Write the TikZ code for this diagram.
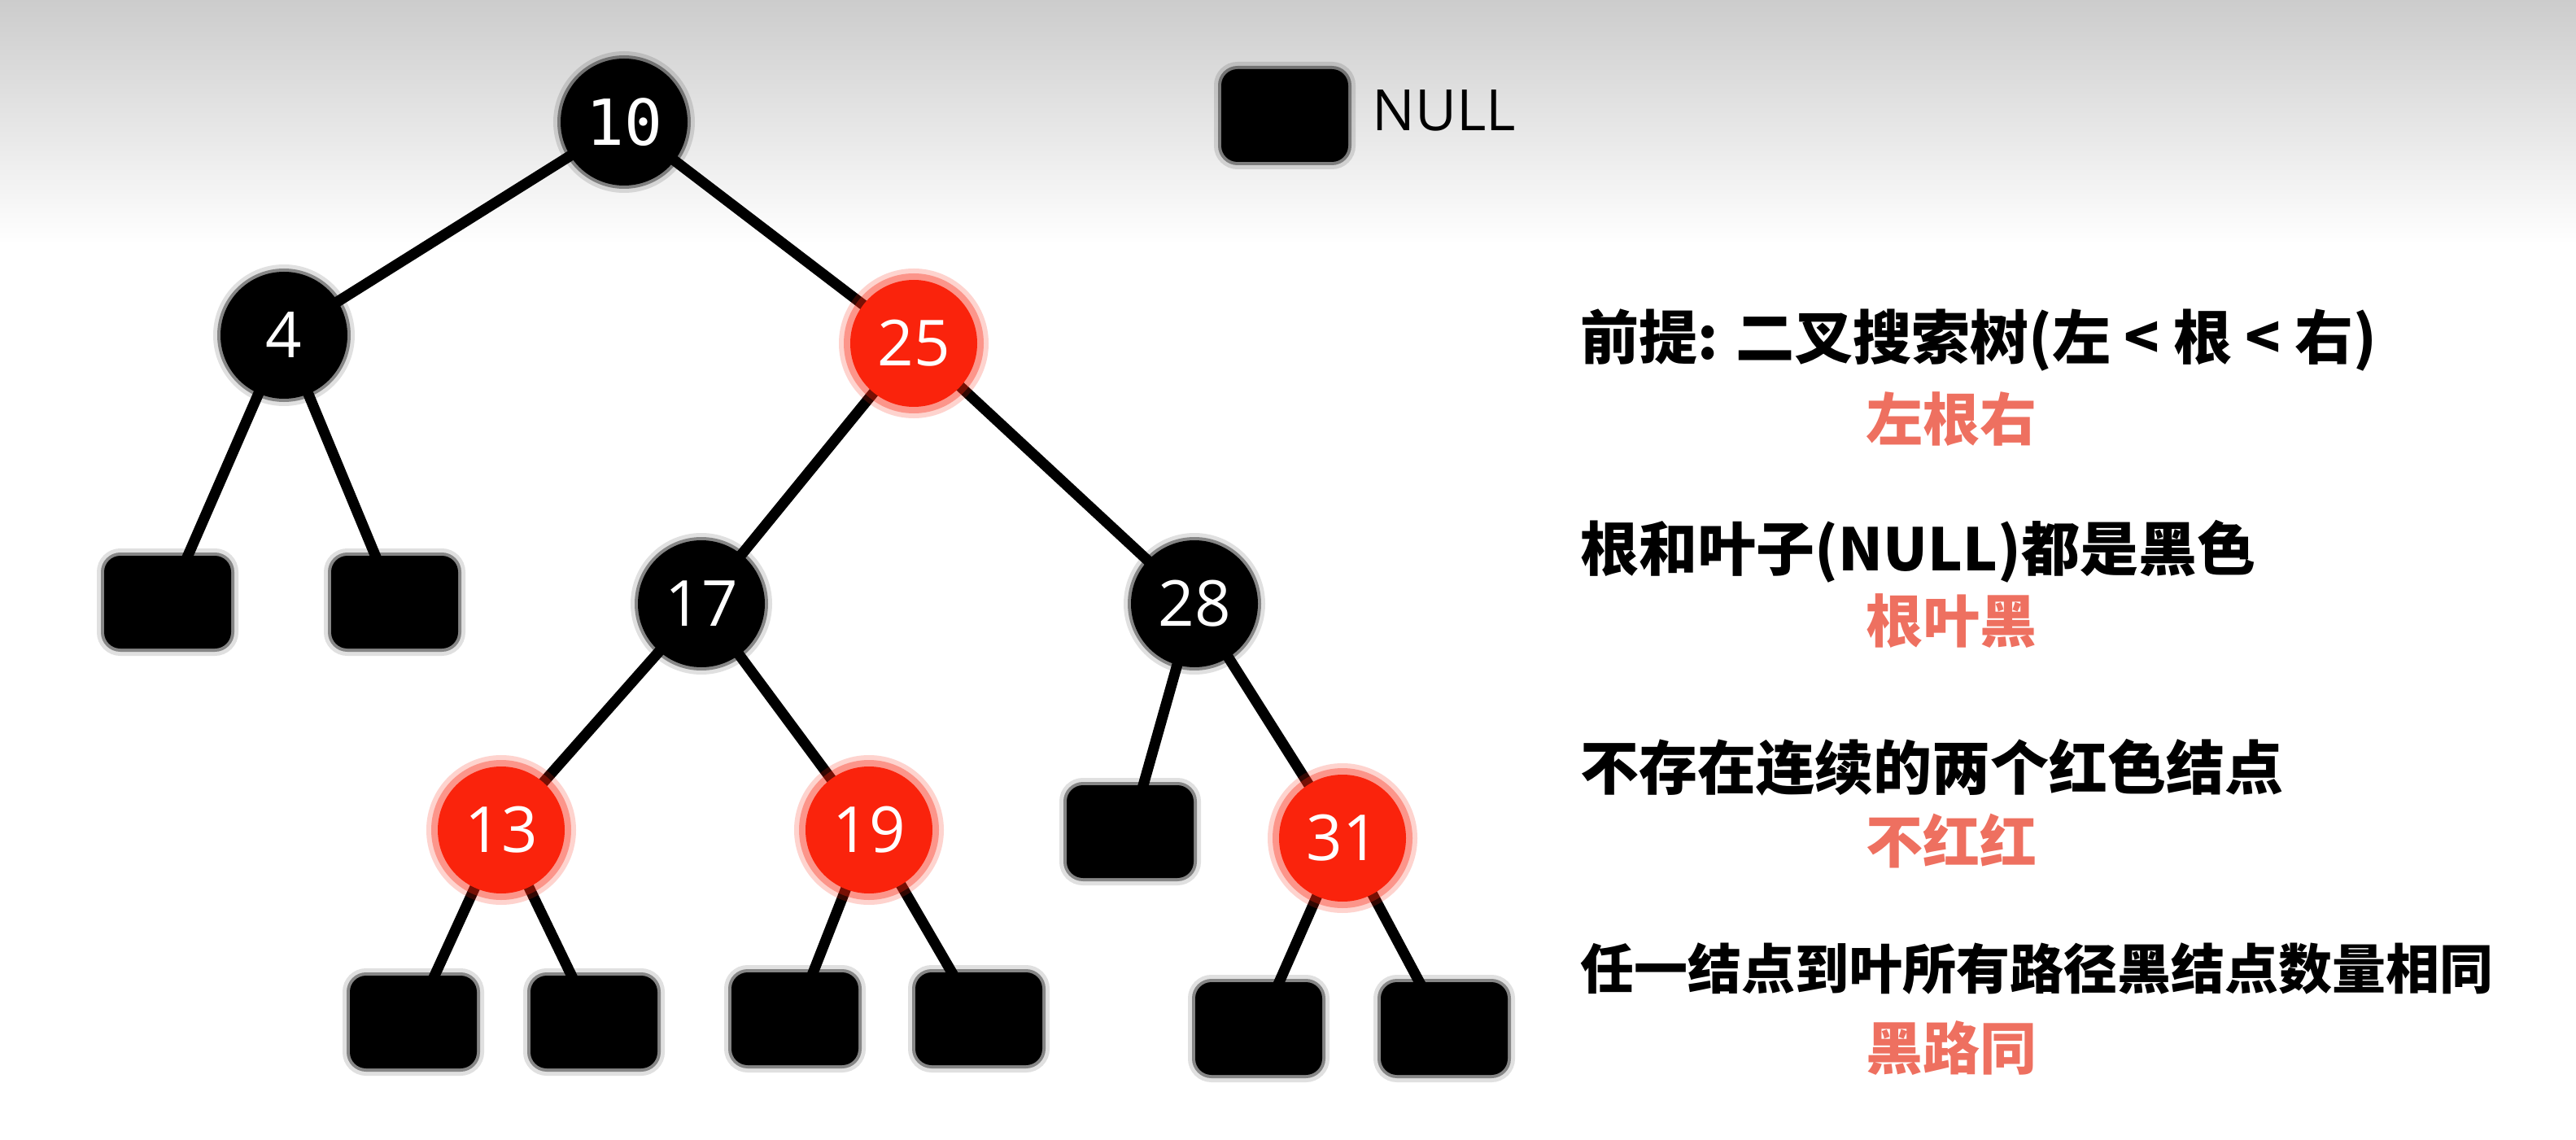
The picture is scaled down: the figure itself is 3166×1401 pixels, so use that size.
\documentclass[tikz,border=0pt]{standalone}
\usepackage{fontspec}
\setmainfont{Open Sans}
\newfontfamily\cjk{Noto Sans CJK SC}
\newfontfamily\monodigits{DejaVu Sans Mono}
\definecolor{rbred}{RGB}{250,35,12}
\definecolor{hintred}{RGB}{238,112,96}
\pgfdeclarelayer{back}
\pgfsetlayers{back,main}
\tikzset{
  blk/.style={circle,fill=black,minimum size=78pt,inner sep=0pt,text=white,
    font=\fontsize{39}{39}\selectfont,
    preaction={draw=black,draw opacity=0.12,line width=9pt},
    preaction={draw=black,draw opacity=0.4,line width=4pt}},
  rd/.style={circle,fill=rbred,minimum size=78pt,inner sep=0pt,text=white,
    font=\fontsize{39}{39}\selectfont,
    preaction={draw=rbred,draw opacity=0.2,line width=14pt},
    preaction={draw=rbred,draw opacity=0.35,line width=8pt}},
  nil/.style={rectangle,rounded corners=10pt,fill=black,minimum width=78pt,
    minimum height=57pt,inner sep=0pt,
    preaction={draw=black,draw opacity=0.12,line width=9pt},
    preaction={draw=black,draw opacity=0.4,line width=4pt}},
  link/.style={line width=6.5pt},
  ruletext/.style={anchor=west,inner sep=0pt,font=\cjk\bfseries\fontsize{36}{36}\selectfont},
  hinttext/.style={inner sep=0pt,text=hintred,font=\cjk\bfseries\fontsize{35}{35}\selectfont}
}
\begin{document}
\begin{tikzpicture}[x=0.5pt,y=-0.5pt]
\useasboundingbox (0,0) rectangle (3166,1401);
% tree
\node[blk] (n10) at (767,150) {\monodigits 10};
\node[blk] (n4) at (349,412) {4};
\node[rd] (n25) at (1123,422) {25};
\node[blk] (n17) at (862,742) {17};
\node[blk] (n28) at (1468,742) {28};
\node[rd] (n13) at (616,1020) {13};
\node[rd] (n19) at (1068,1020) {19};
\node[rd] (n31) at (1650,1030) {31};
% leaves
\node[nil] (l4a) at (206,740) {};
\node[nil] (l4b) at (485,740) {};
\node[nil] (l28a) at (1389,1022) {};
\node[nil] (l13a) at (508,1256) {};
\node[nil] (l13b) at (730,1256) {};
\node[nil] (l19a) at (977,1252) {};
\node[nil] (l19b) at (1203,1252) {};
\node[nil] (l31a) at (1547,1264) {};
\node[nil] (l31b) at (1775,1264) {};
% legend
\node[nil] (key) at (1579,142) {};
\node[anchor=west,inner sep=0pt,font=\fontsize{35}{35}\selectfont] (keytext) at (1686,136) {NULL};
% rules
\node[ruletext] (r1) at (1942,418) {前提: 二叉搜索树(左 < 根 < 右)};
\node[hinttext] (h1) at (2398,515) {左根右};
\node[ruletext] (r2) at (1942,678) {根和叶子(NULL)都是黑色};
\node[hinttext] (h2) at (2398,763) {根叶黑};
\node[ruletext] (r3) at (1942,943) {不存在连续的两个红色结点};
\node[hinttext] (h3) at (2398,1034) {不红红};
\node[ruletext,font=\cjk\bfseries\fontsize{33}{33}\selectfont] (r4) at (1942,1191) {任一结点到叶所有路径黑结点数量相同};
\node[hinttext] (h4) at (2398,1288) {黑路同};
\begin{pgfonlayer}{back}
\fill[white] (0,0) rectangle (3166,1401);
\shade[top color=black!20,bottom color=white] (0,0) rectangle (3166,300);
\foreach \a/\b in {n10/n4,n10/n25,n4/l4a,n4/l4b,n25/n17,n25/n28,n17/n13,n17/n19,
  n28/l28a,n28/n31,n13/l13a,n13/l13b,n19/l19a,n19/l19b,n31/l31a,n31/l31b}
  \draw[link] (\a.center) -- (\b.center);
\end{pgfonlayer}
\end{tikzpicture}
\end{document}
